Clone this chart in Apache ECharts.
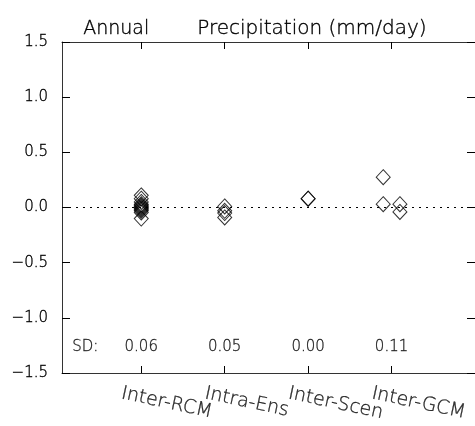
<!DOCTYPE html>
<html>
<head>
<meta charset="utf-8">
<script src="https://cdn.jsdelivr.net/npm/echarts@6/dist/echarts.min.js"></script>
<style>
html,body{margin:0;padding:0;background:#fff;}
#c{width:475px;height:426px;}
</style>
</head>
<body>
<div id="c"></div>
<script>
// ---- data ----
const titleParts = ['Annual', 'Precipitation (mm/day)'];
const categories = ['Inter-RCM', 'Intra-Ens', 'Inter-Scen', 'Inter-GCM'];
const categoryX = [1, 2, 3, 4];
const rcmValues = [0.11, 0.08, 0.05, 0.03, 0.02, 0.01, 0.00, -0.01, -0.02, -0.03, -0.045, -0.10];
const ensValues = [0.01, -0.03, -0.05, -0.09];
const scenValues = [0.08, 0.08];
const gcmValues = [0.275, 0.03, 0.03, -0.04];
const gcmX = [3.9, 3.9, 4.1, 4.1];
const sdLabels = ['0.06', '0.05', '0.00', '0.11'];
const sdPrefix = 'SD:';
const yMin = -1.5, yMax = 1.5, yStep = 0.5;
const xMin = 0.05, xMax = 5.0;

const FONT = 'DejaVu Sans';
const axisColor = '#333';
const textStyleBase = {color: '#000', fontFamily: FONT, fontWeight: 200, textBorderColor: '#000', textBorderWidth: 0.35};

const points = []
  .concat(rcmValues.map(v => [categoryX[0], v]))
  .concat(ensValues.map(v => [categoryX[1], v]))
  .concat(scenValues.map(v => [categoryX[2], v]))
  .concat(gcmValues.map((v, i) => [gcmX[i], v]));

const chart = echarts.init(document.getElementById('c'), null, {renderer: 'canvas'});

const yFmt = v => v.toFixed(1).replace('-', '\u2212');

const xAxisBase = pos => ({
  type: 'value', position: pos, min: xMin, max: xMax,
  axisLine: {show: true, onZero: false, lineStyle: {color: axisColor, width: 1}},
  axisTick: {show: true, inside: true, length: 7, customValues: categoryX, lineStyle: {color: '#000'}},
  axisLabel: {show: false},
  splitLine: {show: false}
});

chart.setOption({
  animation: false,
  backgroundColor: '#fff',
  grid: {left: 62, right: -1, top: 42, bottom: 53, containLabel: false},
  xAxis: [xAxisBase('bottom'), xAxisBase('top')],
  yAxis: [
    {
      type: 'value', position: 'left', min: yMin, max: yMax, interval: yStep,
      axisLine: {show: true, onZero: false, lineStyle: {color: axisColor, width: 1}},
      axisTick: {show: true, inside: true, length: 8, lineStyle: {color: '#000'}},
      axisLabel: Object.assign({show: true, margin: 14, formatter: yFmt, fontSize: 15}, textStyleBase),
      splitLine: {show: false}
    },
    {
      type: 'value', position: 'right', min: yMin, max: yMax, interval: yStep,
      axisLine: {show: true, onZero: false, lineStyle: {color: axisColor, width: 1}},
      axisTick: {show: true, inside: true, length: 8, lineStyle: {color: '#000'}},
      axisLabel: {show: false},
      splitLine: {show: false}
    }
  ],
  series: [
    {
      type: 'scatter',
      data: points,
      symbol: 'diamond',
      symbolSize: [14, 15],
      itemStyle: {color: 'rgba(0,0,0,0)', borderColor: '#000', borderWidth: 1},
      markLine: {
        silent: true,
        symbol: ['none', 'none'],
        label: {show: false},
        lineStyle: {color: '#000', width: 1, type: [2, 5]},
        data: [{yAxis: 0}]
      },
      z: 5
    },
    {
      // category labels below the axis
      type: 'scatter',
      data: categoryX.map((x, i) => ({value: [x, yMin], name: categories[i]})),
      symbolSize: 0,
      clip: false,
      silent: true,
      label: Object.assign({
        show: true, position: 'inside', formatter: p => p.name,
        align: 'left', verticalAlign: 'middle', rotate: -12, offset: [-15, 24],
        fontSize: 19
      }, textStyleBase)
    },
    {
      // SD values
      type: 'scatter',
      data: categoryX.map((x, i) => ({value: [x, yMin], name: sdLabels[i]})),
      symbolSize: 0,
      clip: false,
      silent: true,
      label: Object.assign({
        show: true, position: 'inside', formatter: p => p.name,
        align: 'center', verticalAlign: 'middle', offset: [0, -26],
        fontSize: 15
      }, textStyleBase)
    },
    {
      // SD prefix
      type: 'scatter',
      data: [{value: [categoryX[0], yMin], name: sdPrefix}],
      symbolSize: 0,
      clip: false,
      silent: true,
      label: Object.assign({
        show: true, position: 'inside', formatter: p => p.name,
        align: 'center', verticalAlign: 'middle', offset: [-56, -26],
        fontSize: 15
      }, textStyleBase)
    }
  ],
  graphic: [
    {type: 'text', left: 83, top: 19, style: {text: titleParts[0], fill: '#000', stroke: '#000', lineWidth: 0.35, font: '200 19px "DejaVu Sans"'}},
    {type: 'text', left: 197, top: 19, style: {text: titleParts[1], fill: '#000', stroke: '#000', lineWidth: 0.35, font: '200 20px "DejaVu Sans"'}}
  ]
});
</script>
</body>
</html>
